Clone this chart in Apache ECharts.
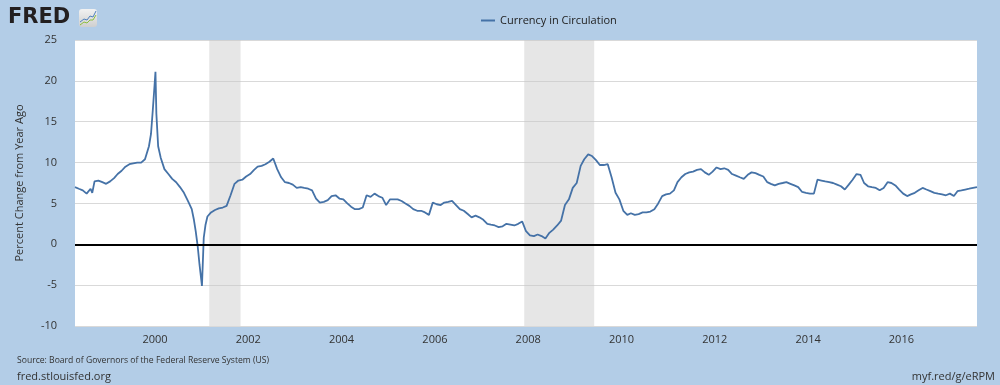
<!DOCTYPE html>
<html>
<head>
<meta charset="utf-8">
<script src="https://cdn.jsdelivr.net/npm/echarts@6/dist/echarts.min.js"></script>
<style>
html,body{margin:0;padding:0;background:#b3cde7;}
#c{width:1000px;height:385px;}
</style>
</head>
<body>
<div id="c"></div>
<script>
const seriesName = 'Currency in Circulation';
const yAxisName = 'Percent Change from Year Ago';
const yTicks = [-10, -5, 0, 5, 10, 15, 20, 25];
const xRange = ['1998-04-15', '2017-08-15'];
const recessions = [['2001-03-01', '2001-11-01'], ['2007-12-01', '2009-06-01']];

const dates = [
 '1998-04-15','1998-05-15','1998-06-15','1998-07-15','1998-08-15','1998-08-28','1998-09-15','1998-10-15','1998-11-15','1998-12-15',
 '1999-01-15','1999-02-15','1999-03-15','1999-04-15','1999-05-15','1999-06-15','1999-07-15','1999-08-15','1999-09-15','1999-10-15','1999-11-15','1999-12-01','1999-12-15','1999-12-29',
 '2000-01-05','2000-01-12','2000-01-26','2000-02-15','2000-03-15','2000-04-15','2000-05-15','2000-06-15','2000-07-15','2000-08-15','2000-09-15','2000-10-15','2000-11-01','2000-11-15','2000-12-01','2000-12-15',
 '2001-01-03','2001-01-17','2001-01-31','2001-02-15','2001-03-15','2001-04-15','2001-05-15','2001-06-15','2001-07-15','2001-08-15','2001-09-15','2001-10-15','2001-11-15','2001-12-15',
 '2002-01-15','2002-02-15','2002-03-15','2002-04-15','2002-05-15','2002-06-15','2002-07-15','2002-08-15','2002-09-15','2002-10-15','2002-11-15','2002-12-15',
 '2003-01-15','2003-02-15','2003-03-15','2003-04-15','2003-05-15','2003-06-15','2003-07-15','2003-08-15','2003-09-15','2003-10-15','2003-11-15','2003-12-15',
 '2004-01-15','2004-02-15','2004-03-15','2004-04-15','2004-05-15','2004-06-15','2004-07-15','2004-08-15','2004-09-15','2004-10-15','2004-11-15','2004-12-15',
 '2005-01-15','2005-02-15','2005-03-15','2005-04-15','2005-05-15','2005-06-15','2005-07-15','2005-08-15','2005-09-15','2005-10-15','2005-11-15','2005-12-15',
 '2006-01-15','2006-02-15','2006-03-15','2006-04-15','2006-05-15','2006-06-15','2006-07-15','2006-08-15','2006-09-15','2006-10-15','2006-11-15','2006-12-15',
 '2007-01-15','2007-02-15','2007-03-15','2007-04-15','2007-05-15','2007-06-15','2007-07-15','2007-08-15','2007-09-15','2007-10-15','2007-11-15','2007-12-15',
 '2008-01-15','2008-02-15','2008-03-15','2008-04-15','2008-05-15','2008-06-15','2008-07-15','2008-08-15','2008-09-15','2008-10-15','2008-11-15','2008-12-15',
 '2009-01-15','2009-02-15','2009-03-15','2009-04-15','2009-05-15','2009-06-15','2009-07-15','2009-08-15','2009-09-15','2009-10-15','2009-11-15','2009-12-15',
 '2010-01-15','2010-02-15','2010-03-15','2010-04-15','2010-05-15','2010-06-15','2010-07-15','2010-08-15','2010-09-15','2010-10-15','2010-11-15','2010-12-15',
 '2011-01-15','2011-02-15','2011-03-15','2011-04-15','2011-05-15','2011-06-15','2011-07-15','2011-08-15','2011-09-15','2011-10-15','2011-11-15','2011-12-15',
 '2012-01-15','2012-02-15','2012-03-15','2012-04-15','2012-05-15','2012-06-15','2012-07-15','2012-08-15','2012-09-15','2012-10-15','2012-11-15','2012-12-15',
 '2013-01-15','2013-02-15','2013-03-15','2013-04-15','2013-05-15','2013-06-15','2013-07-15','2013-08-15','2013-09-15','2013-10-15','2013-11-15','2013-12-15',
 '2014-01-15','2014-02-15','2014-03-15','2014-04-15','2014-05-15','2014-06-15','2014-07-15','2014-08-15','2014-09-15','2014-10-15','2014-11-15','2014-12-15',
 '2015-01-15','2015-02-15','2015-03-15','2015-04-15','2015-05-15','2015-06-15','2015-07-15','2015-08-15','2015-09-15','2015-10-15','2015-11-15','2015-12-15',
 '2016-01-15','2016-02-15','2016-03-15','2016-04-15','2016-05-15','2016-06-15','2016-07-15','2016-08-15','2016-09-15','2016-10-15','2016-11-15','2016-12-15',
 '2017-01-15','2017-02-15','2017-03-15','2017-04-15','2017-05-15','2017-06-15','2017-07-15','2017-08-15'
];
const values = [
 7.0,6.8,6.6,6.2,6.8,6.3,7.7,7.8,7.6,7.4,
 7.7,8.1,8.6,9.0,9.5,9.8,9.9,10.0,10.0,10.4,12.0,13.5,16.4,19.5,
 21.1,16.0,12.0,10.6,9.2,8.6,8.0,7.6,7.0,6.3,5.3,4.3,3.0,1.6,-0.3,-2.5,
 -5.1,0.8,2.4,3.4,3.9,4.2,4.4,4.5,4.7,6.0,7.4,7.8,7.9,8.3,
 8.6,9.1,9.5,9.6,9.8,10.1,10.5,9.2,8.2,7.6,7.5,7.3,
 6.9,7.0,6.9,6.8,6.6,5.6,5.1,5.2,5.4,5.9,6.0,5.6,
 5.5,5.0,4.6,4.3,4.3,4.5,6.0,5.8,6.2,5.9,5.7,4.8,
 5.5,5.5,5.5,5.3,5.0,4.7,4.3,4.1,4.1,3.9,3.6,5.1,
 4.9,4.8,5.1,5.2,5.3,4.8,4.3,4.1,3.7,3.3,3.5,3.3,
 3.0,2.5,2.4,2.3,2.1,2.2,2.5,2.4,2.3,2.5,2.8,1.6,
 1.1,1.0,1.2,1.0,0.7,1.4,1.8,2.3,2.9,4.8,5.5,6.9,
 7.5,9.6,10.4,11.0,10.8,10.3,9.7,9.7,9.8,8.2,6.3,5.5,
 4.1,3.6,3.8,3.6,3.7,3.9,3.9,4.0,4.3,5.0,5.9,6.1,
 6.2,6.6,7.6,8.2,8.6,8.8,8.9,9.1,9.2,8.8,8.5,8.9,
 9.4,9.2,9.3,9.1,8.6,8.4,8.2,8.0,8.5,8.8,8.7,8.5,
 8.3,7.6,7.4,7.2,7.4,7.5,7.6,7.4,7.2,7.0,6.4,6.3,
 6.2,6.2,7.9,7.8,7.7,7.6,7.5,7.3,7.1,6.7,7.3,7.9,
 8.6,8.5,7.5,7.1,7.0,6.9,6.6,6.9,7.6,7.5,7.2,6.7,
 6.2,5.9,6.1,6.3,6.6,6.9,6.7,6.5,6.3,6.2,6.1,6.0,
 6.2,5.9,6.5,6.6,6.7,6.8,6.9,7.0
];

const FONT = '"Open Sans", "DejaVu Sans", sans-serif';
const chart = echarts.init(document.getElementById('c'), null, {renderer: 'canvas'});
const seriesData = dates.map((d, i) => [d, values[i]]);

chart.setOption({
  backgroundColor: '#b3cde7',
  animation: false,
  textStyle: {fontFamily: FONT},
  legend: {
    left: 476, top: 10,
    icon: 'rect', itemWidth: 14, itemHeight: 2, itemGap: 10,
    textStyle: {fontFamily: FONT, fontSize: 11, color: '#222'},
    data: [seriesName]
  },
  grid: {left: 75, right: 23, top: 40, bottom: 59, containLabel: false,
         show: true, backgroundColor: '#ffffff', borderWidth: 0},
  xAxis: {
    type: 'time',
    min: xRange[0], max: xRange[1],
    splitNumber: 10,
    axisLine: {show: false},
    axisTick: {show: false},
    splitLine: {show: false},
    axisLabel: {formatter: '{yyyy}', fontFamily: FONT, fontSize: 11, color: '#333', margin: 8, hideOverlap: false}
  },
  yAxis: {
    type: 'value',
    min: yTicks[0], max: yTicks[yTicks.length - 1], interval: 5,
    name: yAxisName, nameLocation: 'middle', nameGap: 50,
    nameTextStyle: {fontFamily: FONT, fontSize: 11, color: '#333'},
    axisLine: {show: false},
    axisTick: {show: false},
    splitLine: {lineStyle: {color: '#d9d9d9', width: 1}},
    axisLabel: {fontFamily: FONT, fontSize: 11, color: '#333', margin: 18}
  },
  series: [{
    name: seriesName,
    type: 'line',
    data: seriesData,
    showSymbol: false,
    symbol: 'none',
    z: 3,
    lineStyle: {color: '#4572a7', width: 1.8},
    itemStyle: {color: '#4572a7'},
    markArea: {
      silent: true,
      itemStyle: {color: 'rgba(200,200,200,0.45)'},
      data: recessions.map(r => [{xAxis: r[0]}, {xAxis: r[1]}])
    },
    markLine: {
      silent: true, symbol: 'none', label: {show: false},
      lineStyle: {color: '#000', width: 2, type: 'solid'},
      data: [{yAxis: 0}]
    }
  }],
  graphic: [
    {type: 'text', left: 8, top: 7, style: {text: 'FRED', font: 'bold 21px "DejaVu Sans", sans-serif', fill: '#231f20'}},
    {type: 'rect', shape: {x: 79, y: 9, width: 18, height: 18, r: 3},
     style: {fill: new echarts.graphic.LinearGradient(0, 0, 0, 1, [{offset: 0, color: '#f2f2f2'}, {offset: 1, color: '#cfcfcf'}])}},
    {type: 'polyline', shape: {points: [[80, 22], [84, 19], [87, 20], [90, 16], [93, 17], [96, 11]]}, style: {stroke: '#4f81bd', lineWidth: 1, fill: null}},
    {type: 'polyline', shape: {points: [[80, 25], [84, 22], [87, 23], [90, 20], [93, 20], [96, 15]]}, style: {stroke: '#8cbf3f', lineWidth: 1, fill: null}},
    {type: 'text', left: 17, top: 356, style: {text: 'Source: Board of Governors of the Federal Reserve System (US)', font: '8.6px ' + FONT, fill: '#333'}},
    {type: 'text', left: 17, top: 371, style: {text: 'fred.stlouisfed.org', font: '11px ' + FONT, fill: '#333'}},
    {type: 'text', right: 5, top: 371, style: {text: 'myf.red/g/eRPM', font: '11px ' + FONT, fill: '#333'}}
  ]
});
</script>
</body>
</html>
